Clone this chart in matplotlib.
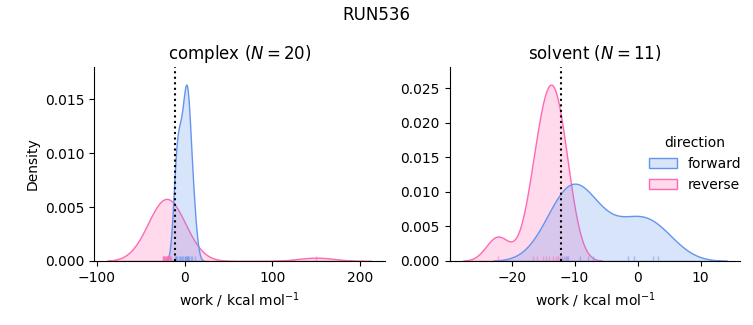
import numpy as np
import matplotlib
matplotlib.use("Agg")
import matplotlib.pyplot as plt
from matplotlib.colors import to_rgba
from matplotlib.patches import Patch

# ---- data (work values, kcal/mol) ----
run_name = "RUN536"
complex_forward = [-10.5, -10.0, -9.5, -8.5, -6.5, -5.0, -4.0, -3.0, -1.5, 0.0,
                   1.0, 2.0, 2.5, 3.0, 3.5, 4.5, 5.5, 7.0, 9.0, 11.5]
complex_reverse = [-25.0, -24.5, -24.0, -23.5, -23.0, -22.5, -22.0, -21.5, -21.0, -20.5,
                   -20.0, -19.5, -19.0, -18.5, -18.0, -17.0, -16.5, -16.0, -15.0, 150.0]
complex_delta_f = -10.5
solvent_forward = [-12.0, -11.7, -11.3, -11.0, -9.2, -7.9, -7.1, -1.5, -0.6, 2.4, 3.3]
solvent_reverse = [-22.2, -16.6, -16.0, -15.0, -14.6, -14.0, -13.5, -13.0, -12.6, -12.3, -11.2]
solvent_delta_f = -12.2
directions = ["forward", "reverse"]
colors = {"forward": "#6495ED", "reverse": "#FF69B4"}

total_n = len(complex_forward) + len(complex_reverse) + len(solvent_forward) + len(solvent_reverse)


def kde(values, norm_total, gridsize=200, cut=3):
    x = np.asarray(values, float)
    n = len(x)
    bw = np.std(x, ddof=1) * n ** (-1 / 5)
    support = np.linspace(x.min() - cut * bw, x.max() + cut * bw, gridsize)
    dens = np.exp(-0.5 * ((support[:, None] - x[None, :]) / bw) ** 2).sum(1)
    dens /= (n * bw * np.sqrt(2 * np.pi))
    dens *= n / norm_total
    return support, dens


fig, axes = plt.subplots(1, 2, figsize=(7.53, 3.25), dpi=100)
fig.subplots_adjust(left=0.125, right=0.983, bottom=0.197, top=0.794, wspace=0.224)

panels = [
    ("complex", complex_forward, complex_reverse, complex_delta_f),
    ("solvent", solvent_forward, solvent_reverse, solvent_delta_f),
]
for ax, (phase, fwd, rev, df) in zip(axes, panels):
    for name, vals in (("reverse", rev), ("forward", fwd)):
        c = colors[name]
        s, d = kde(vals, total_n)
        coll = ax.fill_between(s, 0, d, facecolor=to_rgba(c, 0.25), edgecolor=to_rgba(c, 1.0), linewidth=1.0)
        coll.sticky_edges.y[:] = [0]
        ax.vlines(vals, 0, 0.025, transform=ax.get_xaxis_transform(), colors=[to_rgba(c, 0.5)], linewidth=1.0)
    ax.axvline(df, linestyle=":", color="k")
    ax.margins(x=0.05, y=0.10)
    ax.set_title(f"{phase} ($N = {len(fwd)}$)", fontsize=12)
    ax.set_xlabel("work / kcal mol$^{-1}$")
    for sp in ("top", "right"):
        ax.spines[sp].set_visible(False)

axes[0].set_ylabel("Density")
axes[1].set_yticks([0, 0.005, 0.010, 0.015, 0.020, 0.025])
axes[0].set_yticks([0, 0.005, 0.010, 0.015])
axes[0].set_xticks([-100, 0, 100, 200])
axes[1].set_xticks([-20, -10, 0, 10])

handles = [Patch(facecolor=to_rgba(colors[n], 0.25), edgecolor=colors[n], linewidth=1.0) for n in directions]
axes[1].legend(handles, directions, title="direction", loc="center left",
               bbox_to_anchor=(0.643, 0.5), frameon=False)

fig.suptitle(run_name, fontsize=12)
fig.savefig("out.png", dpi=100)
